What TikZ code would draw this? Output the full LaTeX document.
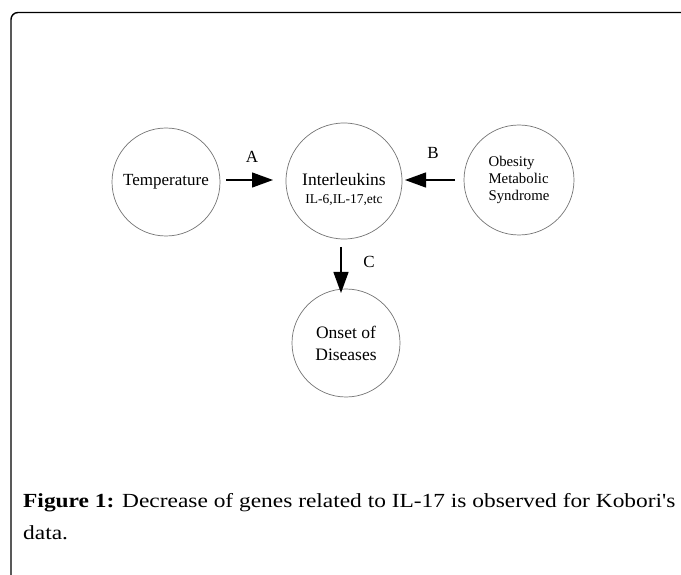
\documentclass[tikz,border=0pt]{standalone}
\usepackage{fontspec}
\setmainfont{Liberation Serif}
\newfontfamily\capfont[FakeStretch=1.17]{Liberation Serif}
\usetikzlibrary{arrows.meta}
\begin{document}
\begin{tikzpicture}[x=1pt,y=-1pt,
  bubble/.style={circle,draw=black!55,line width=0.7pt,inner sep=0pt},
  flow/.style={line width=1.3pt,-{Triangle[length=21pt,width=15pt]}},
  lbl/.style={inner sep=0pt,font=\fontsize{17}{20}\selectfont}]
\useasboundingbox (0,0) rectangle (681,575);
\draw[line width=1.4pt,rounded corners=7pt] (11,575) -- (11,12.5) -- (681,12.5);
% circles
\node[bubble,minimum size=108pt,font=\fontsize{17}{20}\selectfont] (temp) at (166,182) {Temperature};
\node[bubble,minimum size=116pt] (il) at (344,181) {};
\node[inner sep=0pt,align=center,font=\fontsize{17.5}{18}\selectfont] (iltext) at (344,189.5) {Interleukins\\{\fontsize{13.5}{18}\selectfont IL-6,IL-17,etc}};
\node[bubble,minimum size=110pt,align=left,font=\fontsize{14.8}{17}\selectfont] (ob) at (519,180) {Obesity\\Metabolic\\Syndrome};
\node[bubble,minimum size=108pt,align=center,font=\fontsize{17.5}{22}\selectfont] (on) at (346,343) {Onset of\\Diseases};
% arrows
\coordinate (a1) at (226,180);
\coordinate (a2) at (273,180);
\coordinate (b1) at (455,180);
\coordinate (b2) at (405,180);
\coordinate (c1) at (341,247);
\coordinate (c2) at (341,293);
\draw[flow] (a1) -- (a2);
\draw[flow] (b1) -- (b2);
\draw[flow] (c1) -- (c2);
\node[lbl] (la) at (252,157) {A};
\node[lbl] (lb) at (433,153) {B};
\node[lbl] (lc) at (369,262) {C};
% caption
\node[anchor=base west,inner sep=0pt,font=\capfont\fontsize{20}{32}\selectfont] (cap1) at (23,507) {\textbf{Figure 1:} Decrease of genes related to IL-17 is observed for Kobori\char"0027 s};
\node[anchor=base west,inner sep=0pt,font=\capfont\fontsize{20}{32}\selectfont] (cap2) at (23,539) {data.};
\end{tikzpicture}
\end{document}
